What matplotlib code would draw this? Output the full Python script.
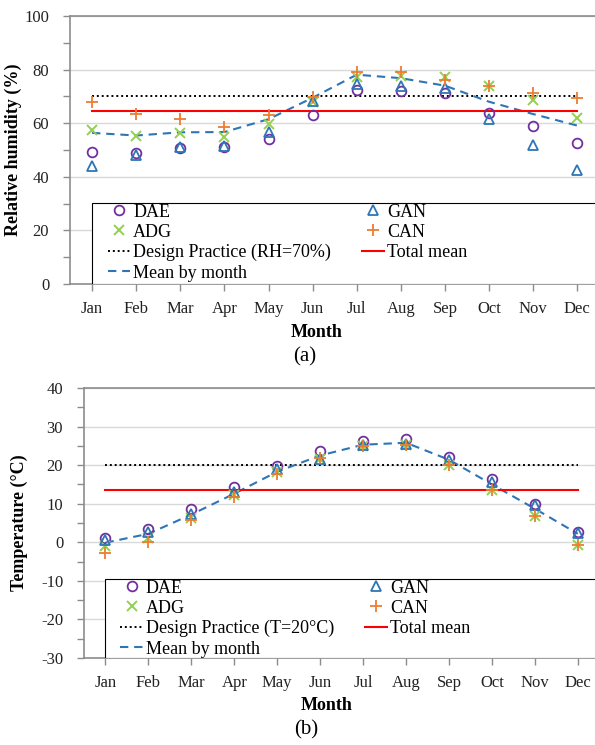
import numpy as np
import matplotlib
matplotlib.use("Agg")
import matplotlib.pyplot as plt
from matplotlib.patches import Rectangle
from matplotlib.ticker import MultipleLocator

plt.rcParams['font.family'] = ['Liberation Serif', 'DejaVu Serif']
plt.rcParams['axes.unicode_minus'] = False

months = ['Jan', 'Feb', 'Mar', 'Apr', 'May', 'Jun',
          'Jul', 'Aug', 'Sep', 'Oct', 'Nov', 'Dec']

# (a) relative humidity, %
rh_dae = [49.2, 49.0, 50.7, 51.0, 54.2, 63.1, 72.4, 71.9, 71.3, 63.8, 59.1, 52.5]
rh_gan = [44.2, 48.0, 51.3, 51.4, 56.6, 68.4, 74.8, 74.0, 73.1, 61.6, 52.0, 42.6]
rh_adg = [57.5, 55.1, 56.4, 54.8, 59.7, 67.8, 77.3, 77.7, 77.3, 74.0, 68.7, 62.0]
rh_can = [68.0, 63.4, 61.6, 58.5, 63.1, 69.9, 79.2, 79.2, 76.1, 74.0, 71.1, 69.3]
rh_mean = [56.4, 55.4, 56.6, 56.7, 61.5, 69.5, 78.1, 76.8, 74.0, 68.0, 63.4, 59.1]
rh_design = 70
rh_total = 64.5

# (b) temperature, degC
t_dae = [1.0, 3.5, 8.6, 14.4, 19.9, 23.6, 26.2, 26.9, 22.2, 16.3, 9.9, 2.6]
t_gan = [0.7, 2.7, 7.4, 13.1, 19.1, 21.7, 25.2, 25.6, 21.3, 15.7, 9.6, 2.4]
t_adg = [-1.0, 1.0, 6.3, 12.2, 18.3, 21.7, 24.9, 25.2, 20.0, 13.5, 6.8, -0.6]
t_can = [-2.7, 0.1, 5.7, 11.8, 17.6, 21.9, 24.9, 25.2, 20.0, 13.5, 6.8, -0.6]
t_mean = [-0.1, 2.2, 7.2, 12.6, 18.3, 22.5, 25.3, 25.8, 21.4, 15.0, 8.7, 2.2]
t_design = 20
t_total = 13.6

C_DAE = '#7030A0'
C_GAN = '#2E75B6'
C_ADG = '#92D050'
C_CAN = '#ED7D31'
C_MEAN = '#2E75B6'
C_TOT = '#FF0000'
SPINE = '#8C8C8C'


def panel(ax, dae, gan, adg, can, mean, design, total, design_lab,
          ylim, major, minor, ylabel, leg_x, leg_top):
    x = np.arange(len(months))
    ax.plot(x, dae, ls='none', marker='o', ms=7, mfc='none', mec=C_DAE,
            mew=1.3, label='DAE', zorder=5)
    ax.plot(x, adg, ls='none', marker='x', ms=7, mec=C_ADG, mew=1.4,
            label='ADG', zorder=5)
    ax.plot(x, [design] * len(x), color='black', lw=1.4,
            ls=(0, (1, 1.5)), label=design_lab, zorder=4)
    ax.plot(x, mean, color=C_MEAN, lw=1.5, ls=(0, (4, 2.8)),
            label='Mean by month', zorder=4)
    ax.plot(x, gan, ls='none', marker='^', ms=7, mfc='none', mec=C_GAN,
            mew=1.3, label='GAN', zorder=5)
    ax.plot(x, can, ls='none', marker='+', ms=9, mec=C_CAN, mew=1.3,
            label='CAN', zorder=5)
    ax.plot(x, [total] * len(x), color=C_TOT, lw=1.5, label='Total mean',
            zorder=4)

    ax.set_xlim(-0.5, 11.4)
    ax.set_ylim(*ylim)
    ax.yaxis.set_major_locator(MultipleLocator(major))
    ax.yaxis.set_minor_locator(MultipleLocator(minor))
    ax.set_xticks(x)
    ax.set_xticklabels(months)
    ax.grid(axis='y', which='major', color='#D9D9D9', lw=1.0, zorder=0)
    ax.set_axisbelow(True)

    for s in ['top', 'bottom', 'left']:
        ax.spines[s].set_color(SPINE)
        ax.spines[s].set_linewidth(1.2)
    ax.spines['right'].set_visible(False)
    ax.tick_params(axis='both', which='both', direction='out', length=5,
                   color=SPINE, width=1.0, labelsize=12, labelcolor='#222222')
    ax.tick_params(axis='y', which='both', pad=10)
    ax.tick_params(axis='x', pad=7)

    ax.set_ylabel(ylabel, fontsize=13, fontweight='bold')
    ax.set_xlabel('Month', fontsize=13, fontweight='bold')

    # white legend box, open on the right
    ax.add_patch(Rectangle((leg_x, 0), 1.5, leg_top, transform=ax.transAxes,
                           fc='white', ec='black', lw=0.8, zorder=3))
    h, l = ax.get_legend_handles_labels()
    leg = ax.legend(h, l, ncol=2, loc='upper left',
                    bbox_to_anchor=(leg_x + 0.03, leg_top - 0.002),
                    frameon=False, fontsize=13, borderpad=0,
                    borderaxespad=0, handlelength=1.25, handletextpad=0.15,
                    labelspacing=0.18, columnspacing=1.7, numpoints=1)
    leg.set_zorder(6)
    return ax


fig = plt.figure(figsize=(5.95, 7.45), dpi=100)

ax1 = fig.add_axes([70 / 595, 1 - 284 / 745, 525 / 595, 268 / 745])
panel(ax1, rh_dae, rh_gan, rh_adg, rh_can, rh_mean, rh_design, rh_total,
      'Design Practice (RH=70%)', (0, 100), 20, 10,
      'Relative humidity (%)', 22 / 525, 81 / 268)
ax1.yaxis.set_label_coords(-0.092, 0.5)
ax1.xaxis.set_label_coords(0.47, -0.149)

ax2 = fig.add_axes([84 / 595, 1 - 658 / 745, 511 / 595, 270 / 745])
panel(ax2, t_dae, t_gan, t_adg, t_can, t_mean, t_design, t_total,
      'Design Practice (T=20°C)', (-30, 40), 10, 5,
      'Temperature (°C)', 21 / 511, 79 / 270)
ax2.yaxis.set_label_coords(-0.11, 0.5)
ax2.xaxis.set_label_coords(0.4755, -0.144)

fig.text(305 / 595, 1 - 357 / 745, '(a)', fontsize=15, ha='center', va='center')
fig.text(306 / 595, 1 - 730 / 745, '(b)', fontsize=15, ha='center', va='center')

fig.savefig('out.png', dpi=100)
